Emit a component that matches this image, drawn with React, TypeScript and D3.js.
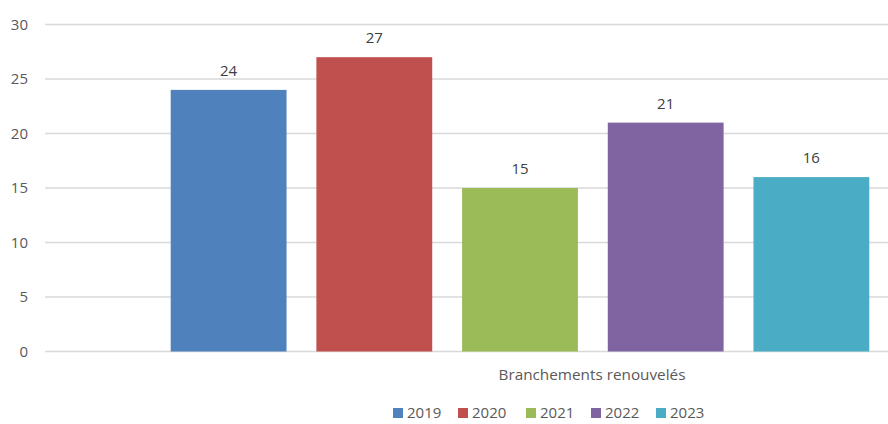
import React from "react";
import * as d3 from "d3";

const years = ["2019", "2020", "2021", "2022", "2023"];
const values = [24, 27, 15, 21, 16];
const colors = ["#4F81BD", "#C0504D", "#9BBB59", "#8064A2", "#4BACC6"];
const yTicks = [0, 5, 10, 15, 20, 25, 30];
const categoryLabel = "Branchements renouvelés";

export default function App() {
  const W = 888, H = 424;
  const font = "'Open Sans', 'Liberation Sans', sans-serif";
  const textColor = "#595959";
  const y = d3.scaleLinear().domain([0, 30]).range([351.5, 24.5]);
  const x = d3.scaleBand().domain(years).range([170.7, 869.3]).paddingInner(0.205).paddingOuter(0);
  const legendX = [393, 458, 526, 591, 656];
  return (
    <svg width={W} height={H} style={{ position: "absolute", left: 0, top: 0, background: "#fff" }}>
      {yTicks.map((t) => (
        <g key={t}>
          <line x1={45} x2={W} y1={y(t)} y2={y(t)} stroke="#D9D9D9" strokeWidth={1.5} />
          <text x={28} y={y(t)} dy="0.35em" textAnchor="end" fontFamily={font} fontSize={15} fill={textColor}>{t}</text>
        </g>
      ))}
      {years.map((yr, i) => (
        <g key={yr}>
          <rect x={x(yr)} y={y(values[i])} width={x.bandwidth()} height={y(0) - y(values[i])} fill={colors[i]} />
          <text x={(x(yr) as number) + x.bandwidth() / 2} y={y(values[i]) - 14} textAnchor="middle" fontFamily={font} fontSize={15} fill="#404040">{values[i]}</text>
        </g>
      ))}
      <text x={592} y={375} dy="0.35em" textAnchor="middle" fontFamily={font} fontSize={15.3} fill={textColor}>{categoryLabel}</text>
      {years.map((yr, i) => (
        <g key={"l" + yr}>
          <rect x={legendX[i]} y={408} width={10} height={10} fill={colors[i]} />
          <text x={legendX[i] + 14} y={413} dy="0.35em" fontFamily={font} fontSize={15} fill={textColor}>{yr}</text>
        </g>
      ))}
    </svg>
  );
}
